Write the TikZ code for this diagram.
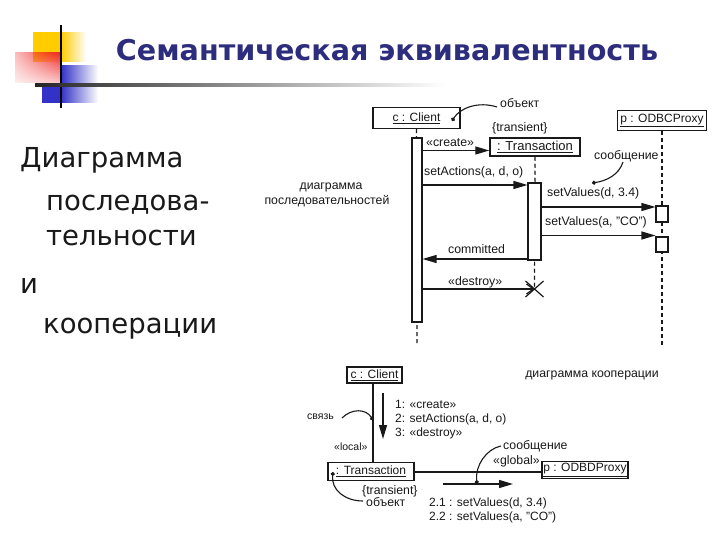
\documentclass[tikz,border=0pt]{standalone}
\usepackage{fontspec}
\setmainfont{Liberation Sans}
\newfontfamily\titlefont{DejaVu Sans}
\usetikzlibrary{arrows.meta,fadings}
\tikzfading[name=fadeR, left color=transparent!0, right color=transparent!100]
\tikzfading[name=fadeL, left color=transparent!70, right color=transparent!0]
\definecolor{navy}{RGB}{45,45,125}
\definecolor{ink}{RGB}{25,25,25}
\definecolor{ycol}{RGB}{255,204,0}
\definecolor{rcol}{RGB}{240,40,40}
\definecolor{bcol}{RGB}{50,50,200}
\tikzset{
  box/.style={draw=ink, line width=1.2pt, fill=white, inner sep=0pt, font=\fontsize{12}{14}\selectfont, text=ink},
  actbox/.style={draw=ink, line width=1.1pt, fill=white, inner sep=0pt},
  msg/.style={draw=ink, line width=1.3pt, -{Triangle[length=14pt,width=8pt]}},
  lbl/.style={font=\fontsize{12.3}{14}\selectfont, text=ink, inner sep=0pt},
  slbl/.style={font=\fontsize{10.5}{12}\selectfont, text=ink, inner sep=0pt},
  blbl/.style={font=\fontsize{12}{14}\selectfont, text=ink, inner sep=0pt},
  lifeline/.style={draw=ink, line width=1.2pt, dash pattern=on 4pt off 3pt},
  notecurve/.style={draw=ink, line width=1.1pt, -{Circle[length=4pt]}},
  bigtext/.style={font=\titlefont\fontsize{27.5}{32}\selectfont, text=black!90, inner sep=0pt, anchor=base west}
}
\begin{document}
\begin{tikzpicture}[x=1pt,y=-1pt]
\useasboundingbox (0,0) rectangle (720,540);
\fill[white] (0,0) rectangle (720,540);

% decoration
\fill[ycol] (33,32) rectangle (61,62);
\fill[ycol, path fading=fadeR] (61,32) rectangle (86,62);
\shade[top color=rcol, bottom color=rcol!25, path fading=fadeL] (15,53) rectangle (61,83);
\fill[bcol] (42,85) rectangle (61,103);
\fill[bcol, path fading=fadeR] (61,65) rectangle (98,103);
\draw[black, line width=2pt] (61,25) -- (61,108);
\shade[left color=black!85, middle color=black!55, right color=white] (35,84) rectangle (445,86.5);

% title
\node[font=\titlefont\bfseries\fontsize{28.6}{34}\selectfont, text=navy, inner sep=0pt] (title) at (387,50) {Семантическая эквивалентность};

% left text
\node[bigtext] (l1) at (20,168) {Диаграмма};
\node[bigtext] (l2) at (46,211) {последова-};
\node[bigtext] (l3) at (46,245) {тельности};
\node[bigtext] (l4) at (20,293) {и};
\node[bigtext] (l5) at (43,333) {кооперации};

% ---------- sequence diagram ----------
\node[box, minimum width=87pt, minimum height=21pt] (client) at (416.5,118) {\underline{c : Client}};
\node[box, minimum width=90pt, minimum height=18pt, line width=1.5pt, font=\fontsize{13}{15}\selectfont] (trans) at (535,147) {\underline{: Transaction}};
\node[box, minimum width=89pt, minimum height=20pt] (proxy) at (662,120.5) {\underline{p : ODBCProxy}};

\coordinate (cend) at (417,346);
\coordinate (pend) at (662,346);
\coordinate (xmark) at (534.5,289);
\draw[lifeline] (client.south) -- (cend);
\draw[lifeline] (proxy.south) -- (pend);
\draw[lifeline] (trans.south) -- (xmark);

\node[actbox, minimum width=10pt, minimum height=184pt] (act1) at (417,230) {};
\node[actbox, minimum width=13pt, minimum height=77pt] (act2) at (534.5,221.5) {};
\node[actbox, minimum width=12pt, minimum height=16pt] (p1) at (662,214) {};
\node[actbox, minimum width=12pt, minimum height=15pt] (p2) at (662,244.5) {};

\coordinate (m1) at (0,150.5);
\coordinate (m2) at (0,185);
\coordinate (m3) at (0,207);
\coordinate (m4) at (0,235.5);
\coordinate (m5) at (0,259);
\coordinate (m6) at (0,289);
\draw[msg] (act1.east |- m1) -- (trans.west |- m1);
\draw[msg] (act1.east |- m2) -- (act2.west |- m2);
\draw[msg] (act2.east |- m3) -- (p1.west |- m3);
\draw[msg] (act2.east |- m4) -- (p2.west |- m4);
\draw[msg] (act2.west |- m5) -- (act1.east |- m5);
\draw[draw=ink, line width=1.2pt, -{Straight Barb[length=7pt,width=10pt]}] (act1.east |- m6) -- (xmark);
\draw[draw=ink, line width=1.2pt] ([shift={(-9,-8)}]xmark) -- ([shift={(9,8)}]xmark)
  ([shift={(-9,8)}]xmark) -- ([shift={(9,-8)}]xmark);

\node[lbl, anchor=west] (tcreate) at (426,143) {«create»};
\node[lbl, anchor=west] (tsetact) at (424,172) {setActions(a, d, o)};
\node[lbl, anchor=west] (tsv1) at (547,193) {setValues(d, 3.4)};
\node[lbl, anchor=west] (tsv2) at (545,222) {setValues(a, "CO")};
\node[lbl, anchor=west] (tcomm) at (448,249) {committed};
\node[lbl, anchor=west] (tdestr) at (448,282) {«destroy»};
\node[lbl, anchor=west] (tobj) at (500,103) {объект};
\node[lbl, anchor=west] (ttrans) at (492,128) {\{transient\}};
\node[lbl, anchor=west] (tmsg) at (594,156) {сообщение};
\node[lbl] (tseq1) at (331,187) {диаграмма};
\node[lbl] (tseq2) at (327,201) {последовательностей};

\coordinate (ob1) at (497,107);
\coordinate (ob2) at (452,121);
\draw[notecurve] (ob1) .. controls (478,101) and (460,108) .. (ob2);
\coordinate (sm1) at (623,162);
\coordinate (sm2) at (592,183);
\draw[notecurve] (sm1) .. controls (619,175) and (606,181) .. (sm2);

% ---------- collaboration diagram ----------
\node[box, minimum width=55pt, minimum height=16pt] (bclient) at (374.5,375) {\underline{c : Client}};
\node[box, minimum width=86pt, minimum height=18pt] (btrans) at (371,471.5) {\underline{: Transaction}};
\node[box, minimum width=86pt, minimum height=17pt] (bproxy) at (585,470) {\underline{p : ODBDProxy}};

\draw[draw=ink, line width=1.2pt] (bclient.south -| 373,0) -- (btrans.north -| 373,0);
\draw[draw=ink, line width=1.6pt] (btrans.east |- 0,472) -- (bproxy.west |- 0,472);

\coordinate (ma1) at (383,393);
\coordinate (ma2) at (383,439);
\draw[msg] (ma1) -- (ma2);
\coordinate (mb1) at (443,484);
\coordinate (mb2) at (513,484);
\draw[msg] (mb1) -- (mb2);

\node[blbl, anchor=west] (b1) at (395,404) {1: «create»};
\node[blbl, anchor=west] (b2) at (395,419) {2: setActions(a, d, o)};
\node[blbl, anchor=west] (b3) at (395,433) {3: «destroy»};
\node[slbl, anchor=west] (bsv) at (307,417) {связь};
\node[slbl, anchor=west] (bloc) at (334,447) {«local»};
\node[lbl, anchor=west] (btr) at (362,491) {\{transient\}};
\node[lbl, anchor=west] (bobj) at (366,502) {объект};
\node[lbl, anchor=west] (bglob) at (493,461) {«global»};
\node[lbl, anchor=west] (bmsg) at (503,446) {сообщение};
\node[blbl, anchor=west] (b21) at (429,503) {2.1 : setValues(d, 3.4)};
\node[blbl, anchor=west] (b22) at (429,517) {2.2 : setValues(a, "CO")};
\node[lbl] (bcoop) at (592,375) {диаграмма кооперации};

\coordinate (cv1) at (342,418);
\coordinate (cv2) at (373,420);
\draw[notecurve] (cv1) .. controls (352,408) and (366,409) .. (cv2);
\coordinate (co1) at (363,501);
\coordinate (co2) at (333,472);
\draw[notecurve] (co1) .. controls (345,501) and (331,490) .. (co2);
\coordinate (cm1) at (501,446);
\coordinate (cm2) at (477,484);
\draw[notecurve] (cm1) .. controls (486,449) and (475,466) .. (cm2);
\end{tikzpicture}
\end{document}
